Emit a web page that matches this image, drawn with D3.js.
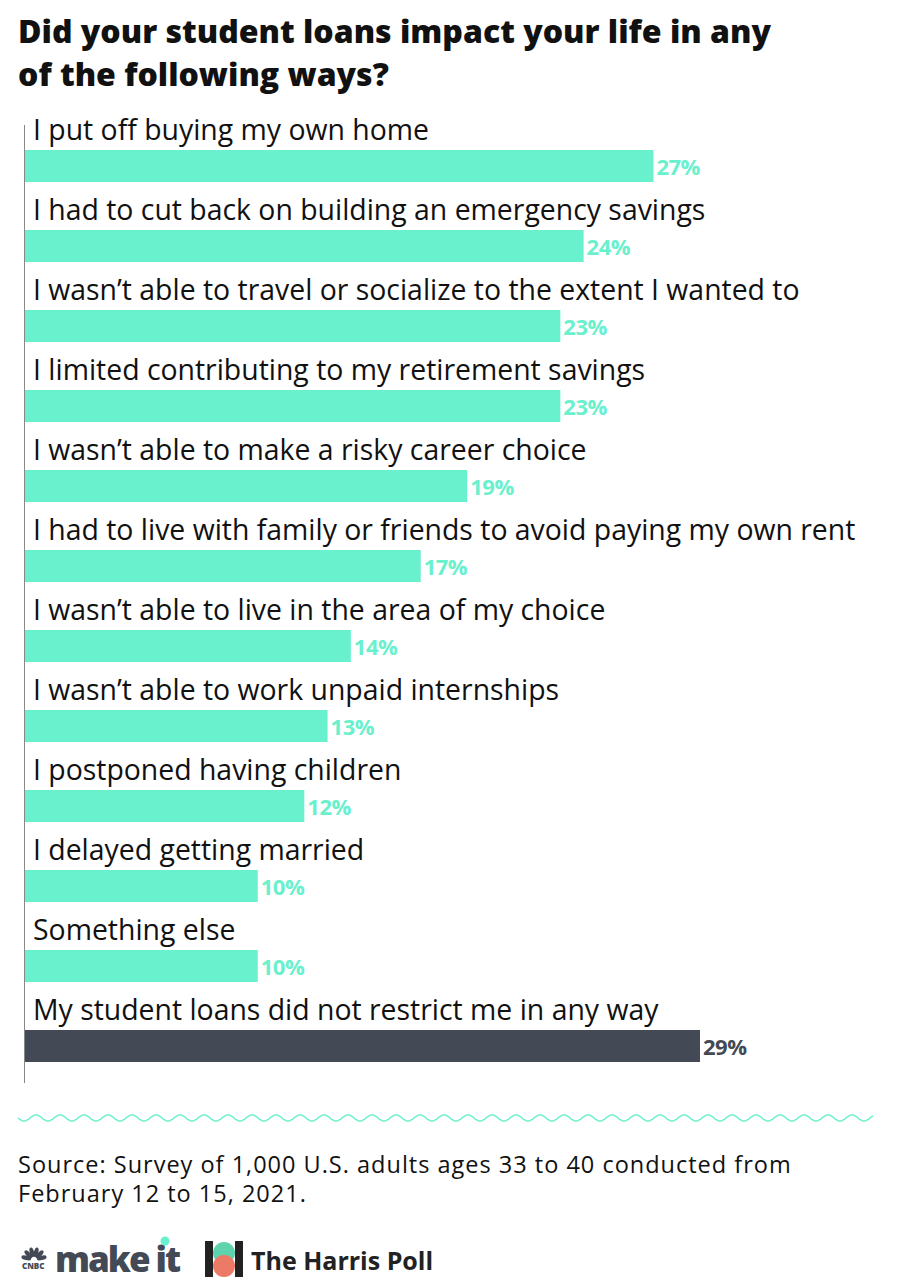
<!DOCTYPE html>
<html><head><meta charset="utf-8">
<script src="https://cdn.jsdelivr.net/npm/d3@7"></script>
<style>body{margin:0;background:#fff}svg{display:block}</style>
</head><body>
<script>
const categories = [
  "I put off buying my own home",
  "I had to cut back on building an emergency savings",
  "I wasn\u2019t able to travel or socialize to the extent I wanted to",
  "I limited contributing to my retirement savings",
  "I wasn\u2019t able to make a risky career choice",
  "I had to live with family or friends to avoid paying my own rent",
  "I wasn\u2019t able to live in the area of my choice",
  "I wasn\u2019t able to work unpaid internships",
  "I postponed having children",
  "I delayed getting married",
  "Something else",
  "My student loans did not restrict me in any way"
];
const values = [27, 24, 23, 23, 19, 17, 14, 13, 12, 10, 10, 29];
const highlight = [false,false,false,false,false,false,false,false,false,false,false,true];
const titleLines = ["Did your student loans impact your life in any", "of the following ways?"];
const sourceLines = ["Source: Survey of 1,000 U.S. adults ages 33 to 40 conducted from", "February 12 to 15, 2021."];

const W = 900, H = 1286;
const font = "'Open Sans', 'Noto Sans', sans-serif";
const teal = "#69f0cd", dark = "#434a56";
const svg = d3.select("body").append("svg").attr("width", W).attr("height", H);

svg.selectAll("text.title").data(titleLines).join("text")
  .attr("x", 18).attr("y", (d,i) => 43 + i*43)
  .attr("font-family", font).attr("font-weight", 800).attr("font-size", 32)
  .attr("fill", "#111").text(d => d);

const x = d3.scaleLinear().domain([0, 29]).range([25, 700]);
const y = d3.scaleBand().domain(categories).range([110, 1070]);
const rowTop = d => y(d);

svg.append("line").attr("x1", 24.5).attr("x2", 24.5).attr("y1", 125).attr("y2", 1083)
  .attr("stroke", "#888").attr("stroke-width", 1);

const rows = svg.selectAll("g.row").data(categories.map((c,i)=>({c, v: values[i], h: highlight[i]}))).join("g");
rows.append("text").attr("x", 33).attr("y", d => rowTop(d.c) + 30)
  .attr("font-family", font).attr("font-size", 28.4).attr("fill", "#111").text(d => d.c);
rows.append("rect").attr("x", x(0)).attr("y", d => rowTop(d.c) + 40)
  .attr("width", d => x(d.v) - x(0)).attr("height", 32)
  .attr("fill", d => d.h ? dark : teal);
rows.append("text").attr("x", d => x(d.v) + 3).attr("y", d => rowTop(d.c) + 57)
  .attr("dy", "0.35em")
  .attr("font-family", font).attr("font-weight", 700).attr("font-size", 22)
  .attr("letter-spacing", -0.5)
  .attr("fill", d => d.h ? dark : teal).text(d => d.v + "%");

// wavy divider
const wave = d3.range(18, 874, 1).map(px => [px, 1118 + 3*Math.sin((px-18)/24*2*Math.PI)]);
svg.append("path").attr("d", d3.line()(wave)).attr("fill", "none").attr("stroke", teal).attr("stroke-width", 1.5);

svg.selectAll("text.src").data(sourceLines).join("text")
  .attr("x", 18).attr("y", (d,i) => 1173 + i*29)
  .attr("font-family", font).attr("font-size", 23.5).attr("letter-spacing", 1)
  .attr("fill", "#111").text(d => d);

// logos
const lg = svg.append("g");
lg.append("text").attr("x", 22).attr("y", 1269).attr("font-family", font).attr("font-size", 8).attr("font-weight",800).attr("fill", dark).text("CNBC");
for (let k=0;k<6;k++){
  const a = Math.PI + (k+0.5)*Math.PI/6;
  const cx = 34 + 8*Math.cos(a), cy = 1260 + 8*Math.sin(a);
  lg.append("ellipse").attr("cx", cx).attr("cy", cy)
    .attr("rx", 2.2).attr("ry", 5).attr("fill", dark)
    .attr("transform", `rotate(${a*180/Math.PI+90},${cx},${cy})`);
}
lg.append("text").attr("x", 55).attr("y", 1272).attr("font-family", font).attr("font-weight", 800)
  .attr("font-size", 35).attr("fill", dark).attr("letter-spacing", -2).text("make it");
lg.append("circle").attr("cx", 165).attr("cy", 1241).attr("r", 4.5).attr("fill", teal);
lg.append("rect").attr("x", 205).attr("y", 1241).attr("width", 8).attr("height", 36).attr("fill", "#222");
lg.append("rect").attr("x", 235).attr("y", 1241).attr("width", 8).attr("height", 36).attr("fill", "#222");
lg.append("circle").attr("cx", 224).attr("cy", 1253).attr("r", 11).attr("fill", "#5fd3ad");
lg.append("circle").attr("cx", 224).attr("cy", 1266).attr("r", 11).attr("fill", "#ec7a66");
lg.append("text").attr("x", 251).attr("y", 1270).attr("font-family", font).attr("font-weight", 700)
  .attr("font-size", 25).attr("fill", "#222").text("The Harris Poll");
</script>
</body></html>
